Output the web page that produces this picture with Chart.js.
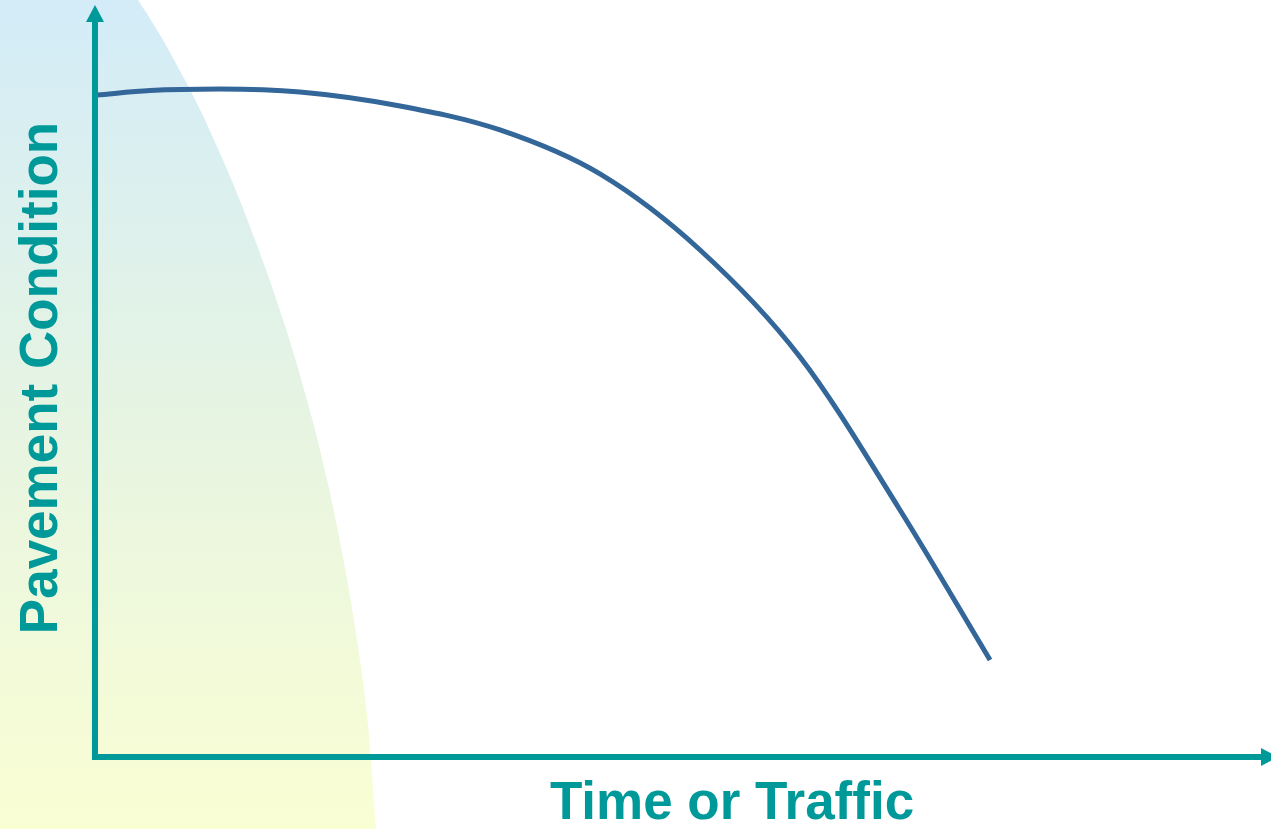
<!DOCTYPE html>
<html>
<head>
<meta charset="utf-8">
<script src="https://cdn.jsdelivr.net/npm/chart.js@4/dist/chart.umd.min.js"></script>
<style>
  html, body { margin: 0; padding: 0; background: #ffffff; }
  #wrap { position: relative; width: 1271px; height: 829px; }
</style>
</head>
<body>
<div id="wrap"><canvas id="c"></canvas></div>
<script>
// Axis titles
const xAxisTitle = "Time or Traffic";
const yAxisTitle = "Pavement Condition";

// Deterioration curve (time/traffic 0..100, condition 0..100)
const timeValues = [0.17, 4.68, 10.63, 17.43, 25.94, 34.44, 42.94, 51.45, 59.95, 68.45, 76.11];
const conditionValues = [88.03, 88.63, 88.83, 88.43, 86.57, 83.38, 77.53, 67.42, 53.19, 32.85, 12.90];

// Background shaded band boundary (same units)
const shadeX = [-8.08, -1.28, 3.66, 7.65, 10.88, 13.61, 15.99, 18.03, 19.73, 21.13, 22.28, 23.17, 23.89];
const shadeY = [140.0, 111.30, 100.66, 90.03, 79.39, 68.75, 58.11, 47.47, 36.84, 26.20, 15.56, 4.92, -9.57];

const TEAL = '#009999';
const CURVE = '#336699';

const curveData = timeValues.map((x, i) => ({ x, y: conditionValues[i] }));
const shadeData = shadeX.map((x, i) => ({ x, y: shadeY[i] }));

const axesPlugin = {
  id: 'arrowAxes',
  afterDatasetsDraw(chart) {
    const c = chart.ctx;
    const xs = chart.scales.x, ys = chart.scales.y;
    const x0 = xs.getPixelForValue(0);
    const y0 = ys.getPixelForValue(0);
    const yTop = ys.getPixelForValue(100.66) + 5;
    const xRight = xs.getPixelForValue(100) + 7;
    c.save();
    c.strokeStyle = TEAL;
    c.fillStyle = TEAL;
    c.lineWidth = 6;
    c.lineCap = 'butt';
    // y axis
    c.beginPath();
    c.moveTo(x0, y0 + 3);
    c.lineTo(x0, yTop + 15);
    c.stroke();
    // y arrow
    c.beginPath();
    c.moveTo(x0, yTop);
    c.lineTo(x0 - 9, yTop + 17);
    c.lineTo(x0 + 9, yTop + 17);
    c.closePath();
    c.fill();
    // x axis
    c.beginPath();
    c.moveTo(x0, y0);
    c.lineTo(xRight - 15, y0);
    c.stroke();
    // x arrow
    c.beginPath();
    c.moveTo(xRight, y0);
    c.lineTo(xRight - 17, y0 - 9);
    c.lineTo(xRight - 17, y0 + 9);
    c.closePath();
    c.fill();

    // titles
    c.font = 'bold 53px "Liberation Sans", Arial, sans-serif';
    c.textAlign = 'center';
    c.textBaseline = 'alphabetic';
    c.fillText(xAxisTitle, 732, 819);
    c.translate(57, 378);
    c.rotate(-Math.PI / 2);
    c.fillText(yAxisTitle, 0, 0);
    c.restore();
  }
};

new Chart(document.getElementById('c'), {
  type: 'line',
  data: {
    datasets: [
      {
        label: 'shade',
        data: shadeData,
        borderWidth: 0,
        pointRadius: 0,
        tension: 0.4,
        fill: 'start',
        backgroundColor: (ctx) => {
          const ch = ctx.chart;
          const area = ch.chartArea;
          if (!area) return '#e5f3ee';
          const g = ch.ctx.createLinearGradient(0, area.top, 0, area.bottom);
          g.addColorStop(0, '#d3ecf8');
          g.addColorStop(0.5, '#e6f4e2');
          g.addColorStop(1, '#fafed3');
          return g;
        },
        order: 2
      },
      {
        label: 'Pavement condition',
        data: curveData,
        borderColor: CURVE,
        borderWidth: 5,
        pointRadius: 0,
        fill: false,
        cubicInterpolationMode: 'monotone',
        order: 1
      }
    ]
  },
  options: {
    responsive: true,
    maintainAspectRatio: false,
    animation: false,
    layout: { padding: 0 },
    plugins: { legend: { display: false }, tooltip: { enabled: false } },
    scales: {
      x: { type: 'linear', min: -8.078, max: 100, display: false },
      y: { type: 'linear', min: -9.574, max: 100.665, display: false }
    }
  },
  plugins: [axesPlugin]
});
</script>
</body>
</html>
